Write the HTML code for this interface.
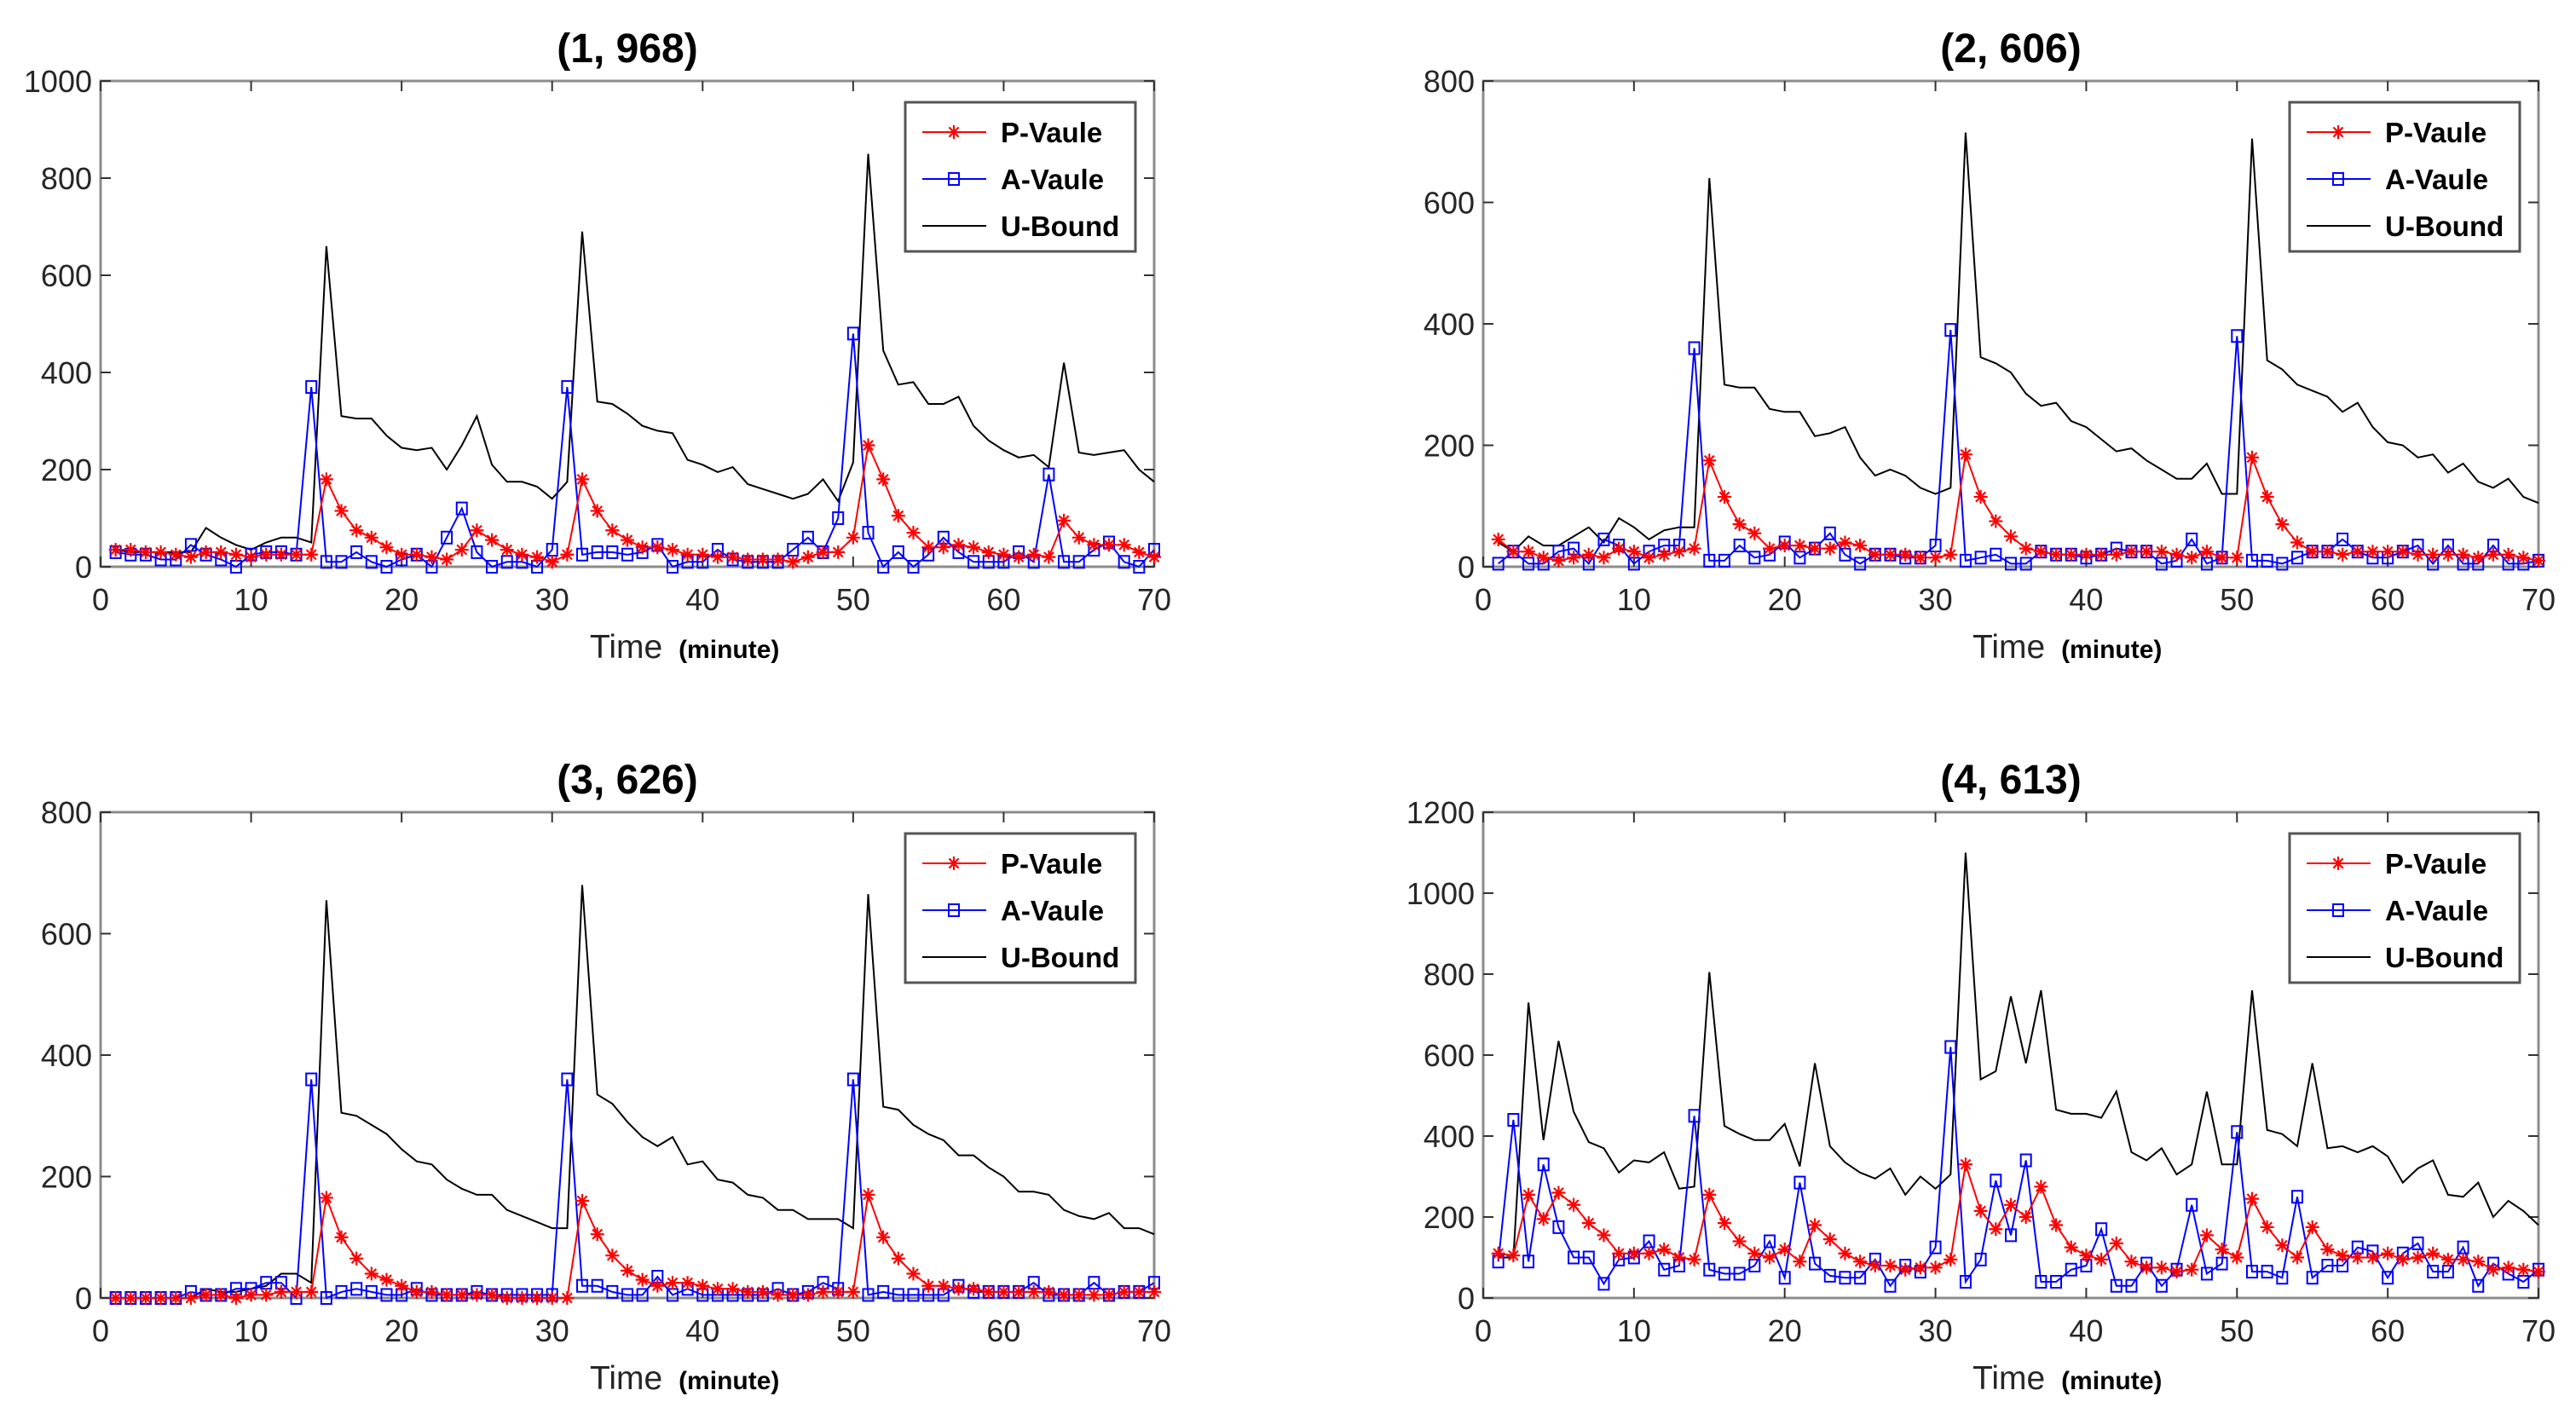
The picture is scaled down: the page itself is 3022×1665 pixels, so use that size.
<!DOCTYPE html>
<html><head><meta charset="utf-8"><style>
html,body{margin:0;padding:0;background:#fff;}
svg{display:block;}
text{font-family:"Liberation Sans",sans-serif;}
</style></head><body>
<svg id="fig" width="3022" height="1665" viewBox="0 0 3022 1665" xmlns="http://www.w3.org/2000/svg"></svg>
<script>
const xTicks=[0,10,20,30,40,50,60,70];
const titles=["(1, 968)","(2, 606)","(3, 626)","(4, 613)"];
const yMaxes=[1000,800,800,1200];
const yTicks1=[0,200,400,600,800,1000];
const yTicks2=[0,200,400,600,800];
const yTicks3=[0,200,400,600,800];
const yTicks4=[0,200,400,600,800,1000,1200];
const p1=[35,35,30,30,25,20,30,30,25,20,25,25,25,25,180,115,75,60,40,25,25,20,15,35,75,55,35,25,20,10,25,180,115,75,55,40,40,35,25,25,20,20,15,15,15,10,20,30,30,60,250,180,105,70,40,40,45,40,30,25,20,25,20,95,60,45,45,45,30,20];
const a1=[30,25,25,15,15,45,25,15,0,25,30,30,25,370,10,10,30,10,0,15,25,0,60,120,30,0,10,10,0,35,370,25,30,30,25,30,45,0,10,10,35,15,10,10,10,35,60,30,100,480,70,0,30,0,25,60,30,10,10,10,30,10,190,10,10,35,50,10,0,35];
const u1=[35,30,30,30,30,30,80,60,45,35,50,60,60,50,660,310,305,305,270,245,240,245,200,250,310,210,175,175,165,140,175,690,340,335,315,290,280,275,220,210,195,205,170,160,150,140,150,180,135,215,850,445,375,380,335,335,350,290,260,240,225,230,205,420,235,230,235,240,200,175];
const p2=[45,25,25,15,10,15,20,15,30,25,15,20,25,30,175,115,70,55,30,35,35,30,30,40,35,20,20,20,15,15,20,185,115,75,50,30,25,20,20,20,20,20,25,25,25,20,15,25,15,15,180,115,70,40,25,25,20,25,25,25,25,20,20,20,20,15,20,20,15,10];
const a2=[5,25,5,5,25,30,5,45,35,5,25,35,35,360,10,10,35,15,20,40,15,30,55,20,5,20,20,15,15,35,390,10,15,20,5,5,25,20,20,15,20,30,25,25,5,10,45,5,15,380,10,10,5,15,25,25,45,25,15,15,25,35,5,35,5,5,35,5,5,10];
const u2=[40,25,50,35,35,50,65,40,80,65,45,60,65,65,640,300,295,295,260,255,255,215,220,230,180,150,160,150,130,120,130,715,345,335,320,285,265,270,240,230,210,190,195,175,160,145,145,170,120,120,705,340,325,300,290,280,255,270,230,205,200,180,185,155,170,140,130,145,115,105];
const p3=[0,0,0,0,0,0,5,5,0,5,5,10,10,10,165,100,65,40,30,20,10,10,5,5,5,5,0,0,0,0,0,160,105,70,45,30,20,25,25,20,15,15,10,10,5,5,5,10,10,10,170,100,65,40,20,20,15,15,10,10,10,10,10,5,5,5,5,10,10,10];
const a3=[0,0,0,0,0,10,5,5,15,15,25,25,0,360,0,10,15,10,5,5,15,5,5,5,10,5,5,5,5,5,360,20,20,10,5,5,35,5,15,5,5,5,5,5,15,5,10,25,15,360,5,10,5,5,5,5,20,10,10,10,10,25,5,5,5,25,5,10,10,25];
const u3=[0,0,0,0,0,0,15,10,10,15,20,40,40,25,655,305,300,285,270,245,225,220,195,180,170,170,145,135,125,115,115,680,335,320,290,265,250,265,220,225,195,190,170,165,145,145,130,130,130,115,665,315,310,285,270,260,235,235,215,200,175,175,170,145,135,130,140,115,115,105];
const p4=[110,105,255,195,260,230,185,155,110,110,110,120,100,95,255,185,140,110,100,120,90,180,145,110,90,80,80,70,75,75,95,330,215,170,230,200,275,180,125,105,95,135,90,75,75,65,70,155,120,100,245,175,130,100,175,120,105,100,100,110,95,100,110,95,95,90,70,75,70,65];
const a4=[90,440,90,330,175,100,100,35,95,100,140,70,80,450,70,60,60,80,140,50,285,85,55,50,50,95,30,80,65,125,620,40,95,290,155,340,40,40,70,80,170,30,30,85,30,70,230,60,85,410,65,65,50,250,50,80,80,125,115,50,110,135,65,65,125,30,85,60,40,70];
const u4=[100,100,730,390,635,460,385,370,310,340,335,360,270,275,805,425,405,390,390,430,325,580,375,335,310,295,320,255,300,270,305,1100,540,560,745,580,760,465,455,455,445,510,360,340,370,305,330,510,330,330,760,415,405,375,580,370,375,360,375,350,285,320,340,255,250,285,200,240,215,180];

const NS="http://www.w3.org/2000/svg";
const svg=document.getElementById('fig');
function el(tag,attrs,parent){const e=document.createElementNS(NS,tag);for(const k in attrs)e.setAttribute(k,attrs[k]);(parent||svg).appendChild(e);return e;}

const panels=[
 {L:118,R:1354,T:95,B:665,yt:yTicks1,P:p1,A:a1,U:u1},
 {L:1740,R:2978,T:95,B:665,yt:yTicks2,P:p2,A:a2,U:u2},
 {L:118,R:1354,T:953,B:1523,yt:yTicks3,P:p3,A:a3,U:u3},
 {L:1740,R:2978,T:953,B:1523,yt:yTicks4,P:p4,A:a4,U:u4}
];

function star(g,cx,cy,r,name){
  const s=el('g',{stroke:'#ff0000','stroke-width':2.2},g);
  
  
  el('line',{x1:cx-r,y1:cy,x2:cx+r,y2:cy},s);
  el('line',{x1:cx,y1:cy-r,x2:cx,y2:cy+r},s);
  const d=r*0.7;
  el('line',{x1:cx-d,y1:cy-d,x2:cx+d,y2:cy+d},s);
  el('line',{x1:cx-d,y1:cy+d,x2:cx+d,y2:cy-d},s);
}

panels.forEach((pn,i)=>{
  const g=el('g',{});
  
  
  const ymax=yMaxes[i];
  const sx=v=>pn.L+(v-0)/70*(pn.R-pn.L);
  const sy=v=>pn.B-v/ymax*(pn.B-pn.T);
  // title
  const t=el('text',{x:(pn.L+pn.R)/2,y:pn.T-22,'text-anchor':'middle','font-size':48,'font-weight':'bold',fill:'#000'},g);
  t.textContent=titles[i];
  
  
  // axes box
  const box=el('rect',{x:pn.L,y:pn.T,width:pn.R-pn.L,height:pn.B-pn.T,fill:'none',stroke:'#8c8c8c','stroke-width':3},g);
  
  
  // x ticks
  xTicks.forEach(v=>{
    const x=sx(v);
    el('line',{x1:x,y1:pn.B,x2:x,y2:pn.B-12,stroke:'#333','stroke-width':2},g);
    el('line',{x1:x,y1:pn.T,x2:x,y2:pn.T+12,stroke:'#333','stroke-width':2},g);
    const tl=el('text',{x:x,y:pn.B+51,'text-anchor':'middle','font-size':36,fill:'#262626'},g);
    tl.textContent=v;
    
    
  });
  pn.yt.forEach(v=>{
    const y=sy(v);
    el('line',{x1:pn.L,y1:y,x2:pn.L+12,y2:y,stroke:'#333','stroke-width':2},g);
    el('line',{x1:pn.R,y1:y,x2:pn.R-12,y2:y,stroke:'#333','stroke-width':2},g);
    const tl=el('text',{x:pn.L-10,y:y+13,'text-anchor':'end','font-size':36,fill:'#262626'},g);
    tl.textContent=v;
    
    
  });
  // x label
  const xl=el('text',{x:pn.L+574,y:pn.B+107,'font-size':39,fill:'#262626'},g);
  
  
  xl.textContent='Time ';
  const ts=el('tspan',{'font-size':30,'font-weight':'bold',fill:'#000',dx:8},xl);
  ts.textContent='(minute)';
  // series
  const pts=arr=>arr.map((v,k)=>sx(k+1).toFixed(1)+','+sy(v).toFixed(1)).join(' ');
  const ul=el('polyline',{points:pts(pn.U),fill:'none',stroke:'#000','stroke-width':2},g);
  
  
  const al=el('polyline',{points:pts(pn.A),fill:'none',stroke:'#0000ff','stroke-width':2},g);
  
  
  pn.A.forEach((v,k)=>{
    const m=el('rect',{x:sx(k+1)-6,y:sy(v)-7,width:12,height:14,fill:'none',stroke:'#0000ff','stroke-width':2},g);
    
    
  });
  const pl=el('polyline',{points:pts(pn.P),fill:'none',stroke:'#ff0000','stroke-width':2},g);
  
  
  pn.P.forEach((v,k)=>star(g,sx(k+1),sy(v),8,'p-value-marker'));
  // legend
  const lg=el('g',{},g);
  
  
  const lx=pn.R-292, ly=pn.T+25;
  el('rect',{x:lx,y:ly,width:270,height:175,fill:'#fff',stroke:'#555','stroke-width':3},lg);
  const names=['P-Vaule','A-Vaule','U-Bound'];
  const cols=['#ff0000','#0000ff','#000'];
  names.forEach((n,j)=>{
    const y=ly+35+j*55;
    const e=el('g',{},lg);
    
    
    el('line',{x1:lx+20,y1:y,x2:lx+95,y2:y,stroke:cols[j],'stroke-width':2},e);
    if(j===0) star(e,lx+57,y,8,'legend-star');
    if(j===1) el('rect',{x:lx+51,y:y-7,width:12,height:14,fill:'none',stroke:'#0000ff','stroke-width':2},e);
    const tx=el('text',{x:lx+112,y:y+12,'font-size':33,'font-weight':'bold',fill:'#000'},e);
    tx.textContent=n;
  });
});
</script>
</body></html>
